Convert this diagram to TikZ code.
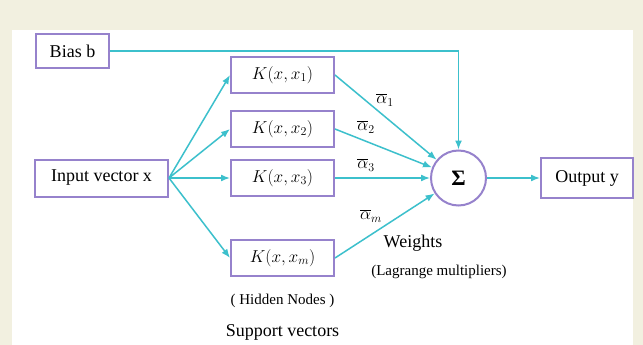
\documentclass[tikz,border=0pt]{standalone}
\usepackage{fontspec}
\setmainfont{Liberation Serif}
\usetikzlibrary{arrows.meta, positioning}
\definecolor{framebeige}{RGB}{242,240,224}
\definecolor{boxpurple}{RGB}{150,130,204}
\definecolor{linecyan}{RGB}{60,192,204}
\tikzstyle{arrow} = [line width=1.5pt, draw=linecyan, -{Latex[length=9pt,width=7pt]}]
\tikzstyle{unit} = [rectangle, draw=boxpurple, line width=2pt, fill=white, minimum height=36pt, text centered, font=\fontsize{18}{21}\selectfont]
\tikzstyle{kernel} = [unit, minimum width=103pt]
\tikzstyle{note} = [font=\fontsize{18}{21}\selectfont]
\tikzstyle{smallnote} = [font=\fontsize{15}{18}\selectfont]
\tikzstyle{weight} = [font=\fontsize{18}{21}\selectfont, inner sep=1pt]

\begin{document}
\begin{tikzpicture}[x=1pt, y=-1pt]
        % Frame and page
        \fill[framebeige] (0,0) rectangle (643,345);
        \fill[white] (12,30) rectangle (633,345);

        % Input and bias
        \node[unit, minimum width=133pt, minimum height=37pt] (input) at (101.5,178) {Input vector x};
        \node[unit, minimum width=73pt, minimum height=34pt, anchor=west] (bias) at (35,51) {Bias b};

        % Hidden nodes (kernels)
        \node[kernel, right=61pt of input] (k3) {$K(x,x_3)$};
        \node[kernel, above=11pt of k3] (k2) {$K(x,x_2)$};
        \node[kernel, above=16pt of k2] (k1) {$K(x,x_1)$};
        \node[kernel, below=42pt of k3] (km) {$K(x,x_m)$};

        % Summation node
        \node[circle, draw=boxpurple, line width=2pt, fill=white, minimum size=55pt, right=95pt of k3, font=\fontsize{22}{24}\selectfont] (sum) {\textbf{Σ}};

        % Output
        \node[unit, minimum width=92pt, minimum height=40pt, right=53pt of sum] (output) {Output y};

        % Connections
        \foreach \k in {k1,k2,k3,km} {
            \draw[arrow] (input.east) -- (\k.west);
            \draw[arrow] (\k.east) -- (sum);
        }
        \draw[arrow] (bias.east) -| (sum.north);
        \draw[arrow] (sum.east) -- (output.west);

        % Weights
        \node[weight] (a1) at (385,100) {$\overline{\alpha}_1$};
        \node[weight] (a2) at (366,127) {$\overline{\alpha}_2$};
        \node[weight] (a3) at (366,165) {$\overline{\alpha}_3$};
        \node[weight] (am) at (371,216) {$\overline{\alpha}_m$};
        \node[note] (weights) at (413,243) {Weights};
        \node[smallnote] (lagrange) at (439,272) {(Lagrange multipliers)};

        % Captions under the hidden nodes
        \node[smallnote, below=14pt of km] (hidden) {( Hidden Nodes )};
        \node[note, below=9pt of hidden] (support) {Support vectors};
\end{tikzpicture}
\end{document}
